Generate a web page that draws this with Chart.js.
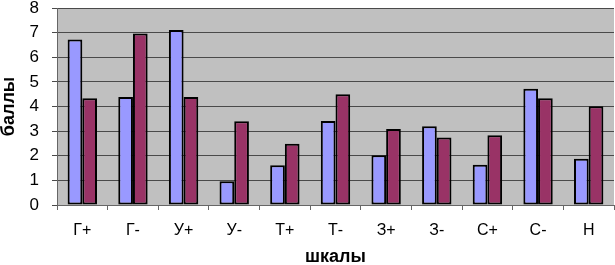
<!DOCTYPE html>
<html><head><meta charset="utf-8">
<script src="https://cdn.jsdelivr.net/npm/chart.js@4/dist/chart.umd.min.js"></script>
<style>html,body{margin:0;padding:0;background:#fff}#w{width:615px;height:265px}</style>
</head><body><div id="w"><canvas id="c" width="615" height="265"></canvas></div>
<script>
const categories = ['Г+','Г-','У+','У-','Т+','Т-','З+','З-','С+','С-','Н'];
const series1 = [6.72,4.39,7.11,0.96,1.61,3.41,2.02,3.2,1.63,4.72,1.88];
const series2 = [4.34,6.96,4.39,3.4,2.49,4.5,3.09,2.74,2.83,4.34,4.01];
const yTicks = [0,1,2,3,4,5,6,7,8];

const bgPlugin = {
  id:'bg',
  beforeDraw(chart){
    const {ctx, chartArea:a} = chart;
    ctx.save();
    ctx.fillStyle = '#C0C0C0';
    ctx.fillRect(a.left, a.top, a.right-a.left, a.bottom-a.top);
    ctx.restore();
  }
};

new Chart(document.getElementById('c'), {
  type:'bar',
  data:{
    labels: categories,
    datasets:[
      {data: series1, backgroundColor:'#9999FF', borderColor:'#000', borderWidth:2, borderSkipped:false},
      {data: series2, backgroundColor:'#993366', borderColor:'#000', borderWidth:2, borderSkipped:false}
    ]
  },
  options:{
    responsive:false, animation:false,
    layout:{padding:{top:8,right:1,left:0,bottom:0}},
    plugins:{legend:{display:false}, tooltip:{enabled:false}},
    datasets:{bar:{categoryPercentage:0.58, barPercentage:1}},
    scales:{
      x:{
        grid:{drawOnChartArea:false, drawTicks:true, tickLength:5, color:'#666', offset:true},
        border:{color:'#666', width:1},
        ticks:{color:'#000', font:{family:'Liberation Sans, Arial', size:16}, padding:11, maxRotation:0, autoSkip:false},
        title:{display:true, text:'шкалы', color:'#000', font:{family:'Liberation Sans, Arial', size:18, weight:'bold'}, padding:{top:4,bottom:-3}},
        afterFit(s){ s.height = 60; s.paddingLeft = 0; s.paddingRight = 0; }
      },
      y:{
        min:0, max:8,
        afterBuildTicks(s){ s.ticks = yTicks.map(v=>({value:v})); },
        grid:{color:'#4a4a4a', lineWidth:1, tickLength:5, drawTicks:true},
        border:{color:'#666', width:1},
        ticks:{color:'#000', font:{family:'Liberation Sans, Arial', size:17}, padding:13, autoSkip:false},
        title:{display:true, text:'баллы', color:'#000', font:{family:'Liberation Sans, Arial', size:18, weight:'bold'}, padding:{top:-2,bottom:6}},
        afterFit(s){ s.width = 57; s.paddingTop = 0; s.paddingBottom = 0; }
      }
    }
  },
  plugins:[bgPlugin]
});
</script></body></html>
